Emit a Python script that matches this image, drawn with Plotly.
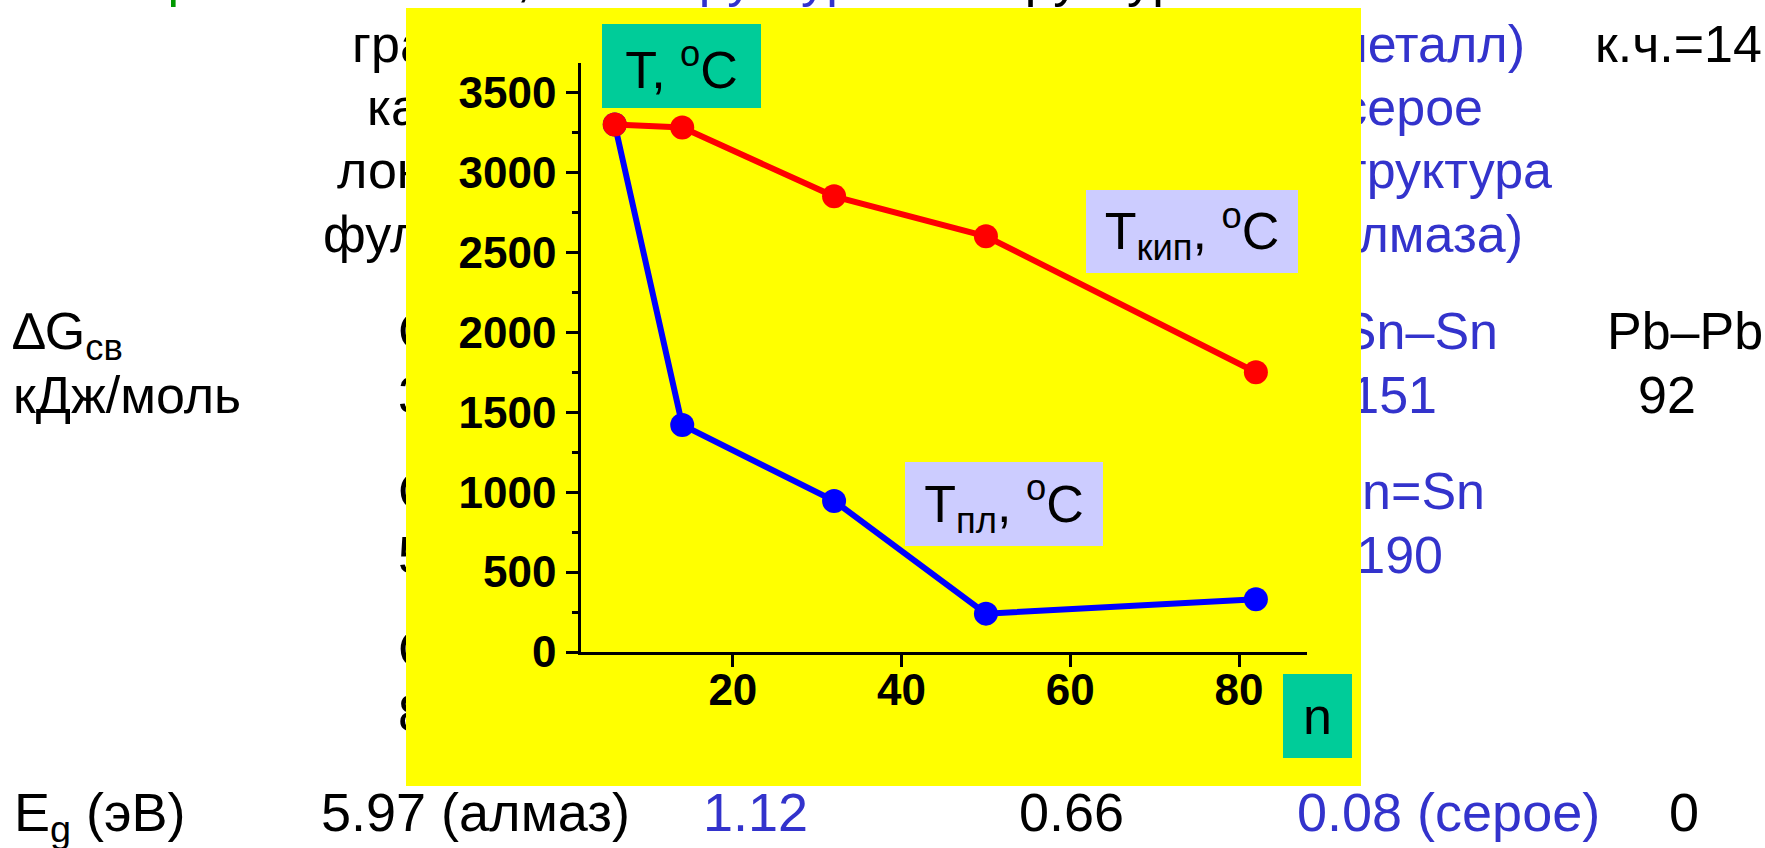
import plotly.graph_objects as go

W, H = 1765, 848
FONT = "Liberation Sans, Arial, sans-serif"
BLACK, BLUE, GREEN = "#000000", "#3333CC", "#009900"

# ---- chart data: group 14 elements ----
elements = ["C", "Si", "Ge", "Sn", "Pb"]
n_values = [6, 14, 32, 50, 82]
t_boil = [3300, 3280, 2850, 2600, 1750]
t_melt = [3300, 1420, 945, 240, 330]
x_tick_vals = [20, 40, 60, 80]
y_tick_vals = [0, 500, 1000, 1500, 2000, 2500, 3000, 3500]
y_minor_vals = [250, 750, 1250, 1750, 2250, 2750, 3250]

# ---- slide text lying behind the chart panel ----
slide_text = [
    "Аллотропия", "алмаз,", "структура", "структура",
    "графит", "β-Sn (металл)", "к.ч.=14",
    "карбин", "α-Sn серое",
    "лонсдейлит", "(структура",
    "фуллерены", "алмаза)",
    "∆G<sub>св</sub>", "C–C", "Sn–Sn", "Pb–Pb",
    "кДж/моль", "348", "151", "92",
    "C=C", "Sn=Sn",
    "598", "190",
    "C≡C",
    "839",
    "E<sub>g</sub> (эВ)", "5.97 (алмаз)", "1.12", "0.66", "0.08 (серое)", "0",
]
slide_x = [
    20, 531, 649, 975,
    352, 1525, 1595,
    367, 1483,
    337, 1552,
    323, 1523,
    13, 398, 1498, 1607,
    13, 398, 1437, 1638,
    398, 1485,
    398, 1443,
    398,
    398,
    14, 321, 703, 1019, 1297, 1669,
]
slide_base = [
    -4, -4, -4, -4,
    62, 62, 62,
    125, 125,
    188, 188,
    252, 252,
    349, 349, 349, 349,
    413, 413, 413, 413,
    509, 509,
    573, 573,
    667,
    731,
    831, 831, 831, 831, 831, 831,
]
slide_align = [
    "L", "R", "L", "L",
    "L", "R", "L",
    "L", "R",
    "L", "R",
    "L", "R",
    "L", "L", "R", "L",
    "L", "L", "R", "L",
    "L", "R",
    "L", "R",
    "L",
    "L",
    "L", "L", "L", "L", "L", "L",
]
slide_color = [
    GREEN, BLACK, BLUE, BLACK,
    BLACK, BLUE, BLACK,
    BLACK, BLUE,
    BLACK, BLUE,
    BLACK, BLUE,
    BLACK, BLACK, BLUE, BLACK,
    BLACK, BLACK, BLUE, BLACK,
    BLACK, BLUE,
    BLACK, BLUE,
    BLACK,
    BLACK,
    BLACK, BLACK, BLUE, BLACK, BLUE, BLACK,
]
slide_size = [52] * 27 + [54] * 6

text_pos = ["middle right" if a == "L" else "middle left" for a in slide_align]
text_y = [b - 0.25 * s for b, s in zip(slide_base, slide_size)]

fig = go.Figure()

# background slide text (full-figure pixel frame)
fig.add_trace(go.Scatter(
    x=slide_x, y=text_y, text=slide_text, mode="text",
    textposition=text_pos,
    textfont=dict(family=FONT, size=slide_size, color=slide_color),
    xaxis="x", yaxis="y", hoverinfo="skip", showlegend=False, cliponaxis=True,
))
# yellow chart panel on top of the slide text
fig.add_trace(go.Scatter(
    x=[406, 1361, 1361, 406, 406], y=[8, 8, 786, 786, 8],
    fill="toself", fillcolor="#FFFF00", mode="lines",
    line=dict(width=0, color="#FFFF00"),
    xaxis="x", yaxis="y", hoverinfo="skip", showlegend=False,
))

# chart series
fig.add_trace(go.Scatter(
    x=n_values, y=t_melt, mode="lines+markers", name="Tпл",
    line=dict(color="#0000FF", width=6),
    marker=dict(color="#0000FF", size=24),
    xaxis="x2", yaxis="y2", showlegend=False, cliponaxis=False,
))
fig.add_trace(go.Scatter(
    x=n_values, y=t_boil, mode="lines+markers", name="Tкип",
    line=dict(color="#FF0000", width=6),
    marker=dict(color="#FF0000", size=24),
    xaxis="x2", yaxis="y2", showlegend=False, cliponaxis=False,
))

x0, x1 = 581, 1306.5
yb, yt = 652, 63

tickfont = dict(family=FONT, size=44, color="black", weight="bold")

fig.update_layout(
    width=W, height=H, autosize=False,
    margin=dict(l=0, r=0, t=0, b=0, pad=0),
    paper_bgcolor="white", plot_bgcolor="rgba(0,0,0,0)",
    showlegend=False,
    xaxis=dict(domain=[0, 1], range=[0, W], visible=False, fixedrange=True),
    yaxis=dict(domain=[0, 1], range=[H, 0], visible=False, fixedrange=True),
    xaxis2=dict(
        domain=[x0 / W, x1 / W], anchor="y2", range=[2, 88],
        tickmode="array", tickvals=x_tick_vals,
        showline=True, linecolor="black", linewidth=2.5,
        ticks="outside", ticklen=12, tickwidth=2.5, tickcolor="black",
        showgrid=False, zeroline=False, tickfont=tickfont,
        ticklabelstandoff=-15, automargin=False,
    ),
    yaxis2=dict(
        domain=[1 - yb / H, 1 - yt / H], anchor="x2", range=[0, 3684],
        tickmode="array", tickvals=y_tick_vals,
        showline=True, linecolor="black", linewidth=2.5,
        ticks="outside", ticklen=12, tickwidth=2.5, tickcolor="black",
        showgrid=False, zeroline=False, tickfont=tickfont,
        ticklabelstandoff=1, automargin=False,
        minor=dict(tickvals=y_minor_vals,
                   ticks="outside", ticklen=6, tickwidth=2.5, tickcolor="black",
                   showgrid=False),
    ),
)


def box(text, xl, xr, yt_, yb_, bg):
    fig.add_annotation(
        x=(xl + xr) / 2 / W, y=1 - (yt_ + yb_) / 2 / H,
        xref="paper", yref="paper", xanchor="center", yanchor="middle",
        text=text, showarrow=False, width=xr - xl, height=yb_ - yt_,
        bgcolor=bg, borderpad=0, borderwidth=0, align="center", valign="middle",
        font=dict(family=FONT, size=52, color="black"),
    )


box("T, <sup>o</sup>C", 602, 761, 24, 108, "#00CC99")
box("T<sub>кип</sub>, <sup>o</sup>C", 1086, 1298, 190, 273, "#CCCCFF")
box("T<sub>пл</sub>, <sup>o</sup>C", 905, 1103, 462, 546, "#CCCCFF")
box("n", 1283, 1352, 674, 758, "#00CC99")

fig.write_html(
    "out.html",
    config={"displayModeBar": False, "responsive": False},
    post_script="document.documentElement.style.margin='0';document.body.style.margin='0';document.body.style.overflow='hidden';",
)
